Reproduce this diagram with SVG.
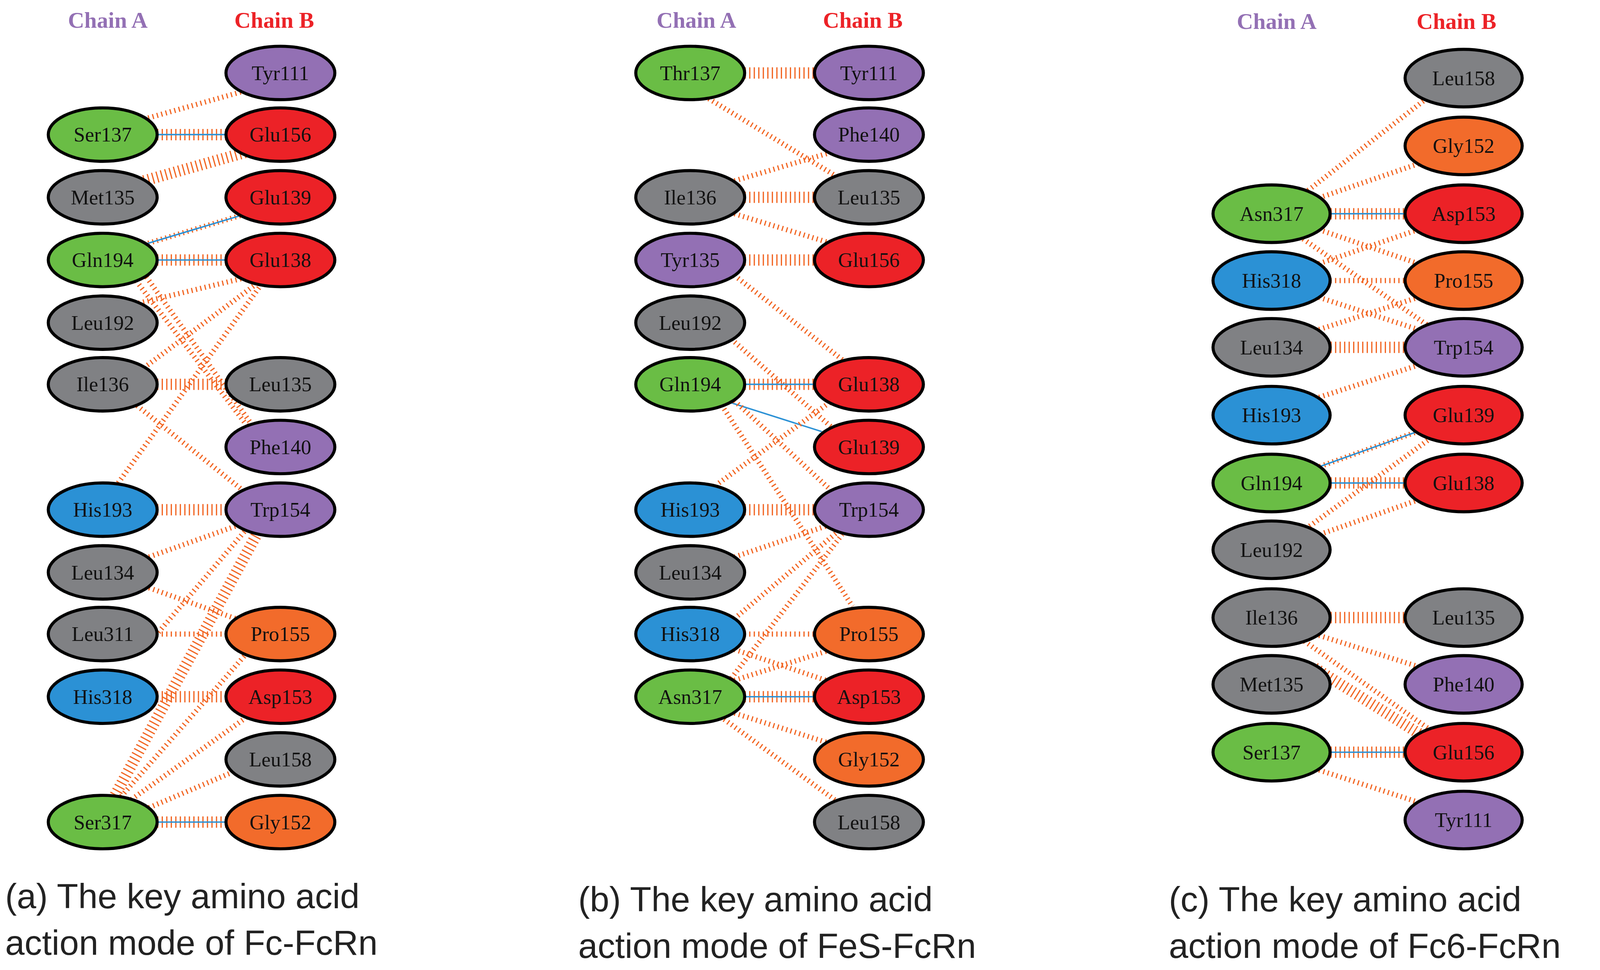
<svg xmlns="http://www.w3.org/2000/svg" width="4123" height="2482" viewBox="0 0 4123 2482">
<style>
.n ellipse{stroke:#000;stroke-width:3}
.n text{font-family:"Liberation Serif",serif;font-size:20px;text-anchor:middle;dominant-baseline:central;fill:#111}
.g{fill:#6abd45}.k{fill:#808184}.r{fill:#ec2227}.p{fill:#9370b4}.b{fill:#2b91d5}.o{fill:#f26b2b}
.d{stroke:#f26522;stroke-width:11;stroke-dasharray:1.2 3.2;fill:none}
.l{stroke:#f26522;stroke-width:5;stroke-dasharray:1.2 3.2;fill:none}
.h{stroke:#2b91d5;stroke-width:1.4;fill:none}
.ca{font-family:"Liberation Serif",serif;font-weight:bold;font-size:22px;fill:#9370b4;text-anchor:middle}
.cb{font-family:"Liberation Serif",serif;font-weight:bold;font-size:22px;fill:#ec2227;text-anchor:middle}
.cap{font-family:"Liberation Sans",sans-serif;font-size:34px;fill:#222}
</style>
<rect width="4123" height="2482" fill="#fff"/>
<g transform="scale(2.6294)">
<text class="ca" x="105" y="27">Chain A</text><text class="cb" x="267" y="27">Chain B</text>
<text class="ca" x="678" y="27">Chain A</text><text class="cb" x="840" y="27">Chain B</text>
<text class="ca" x="1243" y="28">Chain A</text><text class="cb" x="1418" y="28">Chain B</text>
<g id="connectors">
<!-- panel a -->
<line class="l" x1="140" y1="116" x2="240" y2="88"/>
<line class="d" x1="153" y1="131" x2="220" y2="131"/><line class="h" x1="153" y1="131" x2="220" y2="131"/>
<line class="d" x1="140" y1="176" x2="240" y2="148"/>
<line class="l" x1="140" y1="238" x2="240" y2="208"/><line class="h" x1="140" y1="238" x2="240" y2="208"/>
<line class="d" x1="153" y1="253" x2="220" y2="253"/><line class="h" x1="153" y1="253" x2="220" y2="253"/>
<line class="l" x1="135" y1="295" x2="240" y2="270"/>
<line class="l" x1="140" y1="358" x2="250" y2="276"/>
<line class="l" x1="130" y1="270" x2="245" y2="420"/>
<line class="l" x1="140" y1="266" x2="250" y2="420"/>
<line class="d" x1="153" y1="374" x2="220" y2="374"/>
<line class="l" x1="130" y1="392" x2="240" y2="480"/>
<line class="l" x1="115" y1="470" x2="255" y2="276"/>
<line class="d" x1="153" y1="496" x2="220" y2="496"/>
<line class="l" x1="145" y1="542" x2="235" y2="510"/>
<line class="l" x1="145" y1="572" x2="235" y2="604"/>
<line class="l" x1="153" y1="617" x2="220" y2="617"/>
<line class="l" x1="140" y1="632" x2="240" y2="515"/>
<line class="d" x1="153" y1="678" x2="220" y2="678"/>
<line class="d" x1="112" y1="774" x2="250" y2="520"/>
<line class="l" x1="118" y1="775" x2="240" y2="636"/>
<line class="l" x1="128" y1="778" x2="240" y2="698"/>
<line class="l" x1="145" y1="786" x2="225" y2="752"/>
<line class="d" x1="153" y1="800" x2="220" y2="800"/><line class="h" x1="153" y1="800" x2="220" y2="800"/>
<!-- panel b -->
<line class="d" x1="725" y1="71" x2="793" y2="71"/>
<line class="l" x1="690" y1="96" x2="815" y2="172"/>
<line class="l" x1="715" y1="176" x2="810" y2="148"/>
<line class="d" x1="725" y1="192" x2="793" y2="192"/>
<line class="l" x1="715" y1="208" x2="810" y2="237"/>
<line class="d" x1="725" y1="253" x2="793" y2="253"/>
<line class="l" x1="715" y1="268" x2="820" y2="350"/>
<line class="l" x1="712" y1="330" x2="810" y2="416"/>
<line class="d" x1="725" y1="374" x2="793" y2="374"/><line class="h" x1="725" y1="374" x2="793" y2="374"/>
<line class="h" x1="712" y1="392" x2="800" y2="420"/>
<line class="l" x1="705" y1="398" x2="830" y2="590"/>
<line class="l" x1="715" y1="390" x2="810" y2="478"/>
<line class="l" x1="700" y1="470" x2="810" y2="390"/>
<line class="d" x1="725" y1="496" x2="793" y2="496"/>
<line class="l" x1="715" y1="542" x2="810" y2="510"/>
<line class="l" x1="715" y1="602" x2="815" y2="518"/>
<line class="l" x1="725" y1="617" x2="793" y2="617"/>
<line class="l" x1="715" y1="632" x2="810" y2="664"/>
<line class="l" x1="712" y1="660" x2="820" y2="520"/>
<line class="l" x1="715" y1="662" x2="810" y2="632"/>
<line class="d" x1="725" y1="678" x2="793" y2="678"/><line class="h" x1="725" y1="678" x2="793" y2="678"/>
<line class="l" x1="715" y1="694" x2="810" y2="724"/>
<line class="l" x1="705" y1="700" x2="815" y2="780"/>
<!-- panel c -->
<line class="l" x1="1270" y1="188" x2="1390" y2="95"/>
<line class="l" x1="1280" y1="194" x2="1385" y2="158"/>
<line class="d" x1="1291" y1="208" x2="1372" y2="208"/><line class="h" x1="1291" y1="208" x2="1372" y2="208"/>
<line class="l" x1="1280" y1="222" x2="1385" y2="258"/>
<line class="l" x1="1265" y1="230" x2="1395" y2="320"/>
<line class="l" x1="1280" y1="258" x2="1385" y2="222"/>
<line class="l" x1="1291" y1="273" x2="1372" y2="273"/>
<line class="l" x1="1280" y1="288" x2="1385" y2="322"/>
<line class="l" x1="1280" y1="322" x2="1385" y2="288"/>
<line class="d" x1="1291" y1="338" x2="1372" y2="338"/>
<line class="l" x1="1280" y1="388" x2="1385" y2="354"/>
<line class="l" x1="1285" y1="454" x2="1380" y2="420"/><line class="h" x1="1285" y1="454" x2="1380" y2="420"/>
<line class="d" x1="1291" y1="470" x2="1372" y2="470"/><line class="h" x1="1291" y1="470" x2="1372" y2="470"/>
<line class="l" x1="1285" y1="520" x2="1385" y2="485"/>
<line class="l" x1="1275" y1="512" x2="1395" y2="425"/>
<line class="d" x1="1291" y1="601" x2="1372" y2="601"/>
<line class="l" x1="1280" y1="617" x2="1385" y2="650"/>
<line class="l" x1="1270" y1="624" x2="1395" y2="712"/>
<line class="d" x1="1280" y1="650" x2="1385" y2="716"/>
<line class="d" x1="1291" y1="732" x2="1372" y2="732"/><line class="h" x1="1291" y1="732" x2="1372" y2="732"/>
<line class="l" x1="1280" y1="748" x2="1385" y2="782"/>
</g>
<g id="n-a-Tyr111" class="n"><ellipse class="p" cx="273" cy="71" rx="53" ry="26"/><text x="273" y="71">Tyr111</text></g>
<g id="n-a-Ser137" class="n"><ellipse class="g" cx="100" cy="131" rx="53" ry="26"/><text x="100" y="131">Ser137</text></g>
<g id="n-a-Glu156" class="n"><ellipse class="r" cx="273" cy="131" rx="53" ry="26"/><text x="273" y="131">Glu156</text></g>
<g id="n-a-Met135" class="n"><ellipse class="k" cx="100" cy="192" rx="53" ry="26"/><text x="100" y="192">Met135</text></g>
<g id="n-a-Glu139" class="n"><ellipse class="r" cx="273" cy="192" rx="53" ry="26"/><text x="273" y="192">Glu139</text></g>
<g id="n-a-Gln194" class="n"><ellipse class="g" cx="100" cy="253" rx="53" ry="26"/><text x="100" y="253">Gln194</text></g>
<g id="n-a-Glu138" class="n"><ellipse class="r" cx="273" cy="253" rx="53" ry="26"/><text x="273" y="253">Glu138</text></g>
<g id="n-a-Leu192" class="n"><ellipse class="k" cx="100" cy="314" rx="53" ry="26"/><text x="100" y="314">Leu192</text></g>
<g id="n-a-Ile136" class="n"><ellipse class="k" cx="100" cy="374" rx="53" ry="26"/><text x="100" y="374">Ile136</text></g>
<g id="n-a-Leu135" class="n"><ellipse class="k" cx="273" cy="374" rx="53" ry="26"/><text x="273" y="374">Leu135</text></g>
<g id="n-a-Phe140" class="n"><ellipse class="p" cx="273" cy="435" rx="53" ry="26"/><text x="273" y="435">Phe140</text></g>
<g id="n-a-His193" class="n"><ellipse class="b" cx="100" cy="496" rx="53" ry="26"/><text x="100" y="496">His193</text></g>
<g id="n-a-Trp154" class="n"><ellipse class="p" cx="273" cy="496" rx="53" ry="26"/><text x="273" y="496">Trp154</text></g>
<g id="n-a-Leu134" class="n"><ellipse class="k" cx="100" cy="557" rx="53" ry="26"/><text x="100" y="557">Leu134</text></g>
<g id="n-a-Leu311" class="n"><ellipse class="k" cx="100" cy="617" rx="53" ry="26"/><text x="100" y="617">Leu311</text></g>
<g id="n-a-Pro155" class="n"><ellipse class="o" cx="273" cy="617" rx="53" ry="26"/><text x="273" y="617">Pro155</text></g>
<g id="n-a-His318" class="n"><ellipse class="b" cx="100" cy="678" rx="53" ry="26"/><text x="100" y="678">His318</text></g>
<g id="n-a-Asp153" class="n"><ellipse class="r" cx="273" cy="678" rx="53" ry="26"/><text x="273" y="678">Asp153</text></g>
<g id="n-a-Leu158" class="n"><ellipse class="k" cx="273" cy="739" rx="53" ry="26"/><text x="273" y="739">Leu158</text></g>
<g id="n-a-Ser317" class="n"><ellipse class="g" cx="100" cy="800" rx="53" ry="26"/><text x="100" y="800">Ser317</text></g>
<g id="n-a-Gly152" class="n"><ellipse class="o" cx="273" cy="800" rx="53" ry="26"/><text x="273" y="800">Gly152</text></g>

<g id="n-b-Thr137" class="n"><ellipse class="g" cx="672" cy="71" rx="53" ry="26"/><text x="672" y="71">Thr137</text></g>
<g id="n-b-Tyr111" class="n"><ellipse class="p" cx="846" cy="71" rx="53" ry="26"/><text x="846" y="71">Tyr111</text></g>
<g id="n-b-Phe140" class="n"><ellipse class="p" cx="846" cy="131" rx="53" ry="26"/><text x="846" y="131">Phe140</text></g>
<g id="n-b-Ile136" class="n"><ellipse class="k" cx="672" cy="192" rx="53" ry="26"/><text x="672" y="192">Ile136</text></g>
<g id="n-b-Leu135" class="n"><ellipse class="k" cx="846" cy="192" rx="53" ry="26"/><text x="846" y="192">Leu135</text></g>
<g id="n-b-Tyr135" class="n"><ellipse class="p" cx="672" cy="253" rx="53" ry="26"/><text x="672" y="253">Tyr135</text></g>
<g id="n-b-Glu156" class="n"><ellipse class="r" cx="846" cy="253" rx="53" ry="26"/><text x="846" y="253">Glu156</text></g>
<g id="n-b-Leu192" class="n"><ellipse class="k" cx="672" cy="314" rx="53" ry="26"/><text x="672" y="314">Leu192</text></g>
<g id="n-b-Gln194" class="n"><ellipse class="g" cx="672" cy="374" rx="53" ry="26"/><text x="672" y="374">Gln194</text></g>
<g id="n-b-Glu138" class="n"><ellipse class="r" cx="846" cy="374" rx="53" ry="26"/><text x="846" y="374">Glu138</text></g>
<g id="n-b-Glu139" class="n"><ellipse class="r" cx="846" cy="435" rx="53" ry="26"/><text x="846" y="435">Glu139</text></g>
<g id="n-b-His193" class="n"><ellipse class="b" cx="672" cy="496" rx="53" ry="26"/><text x="672" y="496">His193</text></g>
<g id="n-b-Trp154" class="n"><ellipse class="p" cx="846" cy="496" rx="53" ry="26"/><text x="846" y="496">Trp154</text></g>
<g id="n-b-Leu134" class="n"><ellipse class="k" cx="672" cy="557" rx="53" ry="26"/><text x="672" y="557">Leu134</text></g>
<g id="n-b-His318" class="n"><ellipse class="b" cx="672" cy="617" rx="53" ry="26"/><text x="672" y="617">His318</text></g>
<g id="n-b-Pro155" class="n"><ellipse class="o" cx="846" cy="617" rx="53" ry="26"/><text x="846" y="617">Pro155</text></g>
<g id="n-b-Asn317" class="n"><ellipse class="g" cx="672" cy="678" rx="53" ry="26"/><text x="672" y="678">Asn317</text></g>
<g id="n-b-Asp153" class="n"><ellipse class="r" cx="846" cy="678" rx="53" ry="26"/><text x="846" y="678">Asp153</text></g>
<g id="n-b-Gly152" class="n"><ellipse class="o" cx="846" cy="739" rx="53" ry="26"/><text x="846" y="739">Gly152</text></g>
<g id="n-b-Leu158" class="n"><ellipse class="k" cx="846" cy="800" rx="53" ry="26"/><text x="846" y="800">Leu158</text></g>

<g id="n-c-Leu158" class="n"><ellipse class="k" cx="1425" cy="76" rx="57" ry="28"/><text x="1425" y="76">Leu158</text></g>
<g id="n-c-Gly152" class="n"><ellipse class="o" cx="1425" cy="142" rx="57" ry="28"/><text x="1425" y="142">Gly152</text></g>
<g id="n-c-Asn317" class="n"><ellipse class="g" cx="1238" cy="208" rx="57" ry="28"/><text x="1238" y="208">Asn317</text></g>
<g id="n-c-Asp153" class="n"><ellipse class="r" cx="1425" cy="208" rx="57" ry="28"/><text x="1425" y="208">Asp153</text></g>
<g id="n-c-His318" class="n"><ellipse class="b" cx="1238" cy="273" rx="57" ry="28"/><text x="1238" y="273">His318</text></g>
<g id="n-c-Pro155" class="n"><ellipse class="o" cx="1425" cy="273" rx="57" ry="28"/><text x="1425" y="273">Pro155</text></g>
<g id="n-c-Leu134" class="n"><ellipse class="k" cx="1238" cy="338" rx="57" ry="28"/><text x="1238" y="338">Leu134</text></g>
<g id="n-c-Trp154" class="n"><ellipse class="p" cx="1425" cy="338" rx="57" ry="28"/><text x="1425" y="338">Trp154</text></g>
<g id="n-c-His193" class="n"><ellipse class="b" cx="1238" cy="404" rx="57" ry="28"/><text x="1238" y="404">His193</text></g>
<g id="n-c-Glu139" class="n"><ellipse class="r" cx="1425" cy="404" rx="57" ry="28"/><text x="1425" y="404">Glu139</text></g>
<g id="n-c-Gln194" class="n"><ellipse class="g" cx="1238" cy="470" rx="57" ry="28"/><text x="1238" y="470">Gln194</text></g>
<g id="n-c-Glu138" class="n"><ellipse class="r" cx="1425" cy="470" rx="57" ry="28"/><text x="1425" y="470">Glu138</text></g>
<g id="n-c-Leu192" class="n"><ellipse class="k" cx="1238" cy="535" rx="57" ry="28"/><text x="1238" y="535">Leu192</text></g>
<g id="n-c-Ile136" class="n"><ellipse class="k" cx="1238" cy="601" rx="57" ry="28"/><text x="1238" y="601">Ile136</text></g>
<g id="n-c-Leu135" class="n"><ellipse class="k" cx="1425" cy="601" rx="57" ry="28"/><text x="1425" y="601">Leu135</text></g>
<g id="n-c-Met135" class="n"><ellipse class="k" cx="1238" cy="666" rx="57" ry="28"/><text x="1238" y="666">Met135</text></g>
<g id="n-c-Phe140" class="n"><ellipse class="p" cx="1425" cy="666" rx="57" ry="28"/><text x="1425" y="666">Phe140</text></g>
<g id="n-c-Ser137" class="n"><ellipse class="g" cx="1238" cy="732" rx="57" ry="28"/><text x="1238" y="732">Ser137</text></g>
<g id="n-c-Glu156" class="n"><ellipse class="r" cx="1425" cy="732" rx="57" ry="28"/><text x="1425" y="732">Glu156</text></g>
<g id="n-c-Tyr111" class="n"><ellipse class="p" cx="1425" cy="798" rx="57" ry="28"/><text x="1425" y="798">Tyr111</text></g>

<text class="cap" x="5" y="884">(a) The key amino acid</text>
<text class="cap" x="5" y="929">action mode of Fc-FcRn</text>
<text class="cap" x="563" y="887">(b) The key amino acid</text>
<text class="cap" x="563" y="932">action mode of FeS-FcRn</text>
<text class="cap" x="1138" y="887">(c) The key amino acid</text>
<text class="cap" x="1138" y="932">action mode of Fc6-FcRn</text>
</g>
</svg>
